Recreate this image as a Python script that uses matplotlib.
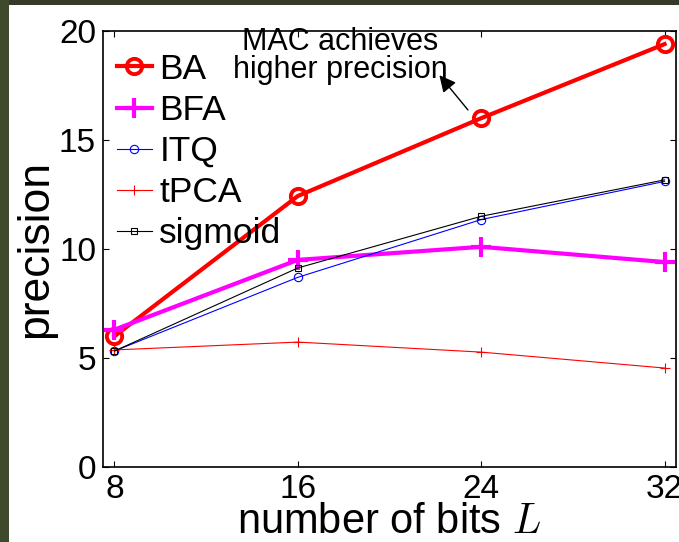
import matplotlib
matplotlib.use('Agg')
import matplotlib.pyplot as plt
from matplotlib.patches import Rectangle

plt.rcParams['font.family'] = ['Liberation Sans', 'DejaVu Sans']
plt.rcParams['mathtext.fontset'] = 'cm'

bits = [8, 16, 24, 32]
ba = [6.0, 12.43, 16.0, 19.4]
bfa = [6.3, 9.5, 10.1, 9.4]
itq = [5.32, 8.7, 11.35, 13.1]
tpca = [5.37, 5.73, 5.27, 4.54]
sigmoid = [5.32, 9.13, 11.5, 13.17]

fig = plt.figure(figsize=(6.79, 5.42), dpi=100)
fig.patch.set_facecolor('white')
# dark border strips along the top and left edge
fig.add_artist(Rectangle((0, 1 - 5 / 542), 1, 5 / 542, transform=fig.transFigure,
                         facecolor='#353a2b', edgecolor='none', zorder=-5))
fig.add_artist(Rectangle((0, 0), 9 / 679, 1, transform=fig.transFigure,
                         facecolor='#3f4a2d', edgecolor='none', zorder=-5))

ax = fig.add_axes([103 / 679, 1 - 467 / 542, (676 - 103) / 679, (467 - 31) / 542])

ax.plot(bits, ba, color='red', lw=3, marker='o', ms=11, mfc='none', mew=2.8, label='BA')
ax.plot(bits, bfa, color='magenta', lw=3, marker='+', ms=14, mew=3, label='BFA')
ax.plot(bits, itq, color='blue', lw=0.8, marker='o', ms=6, mfc='none', mew=0.8, label='ITQ')
ax.plot(bits, tpca, color='red', lw=0.8, marker='+', ms=7, mew=0.8, label='tPCA')
ax.plot(bits, sigmoid, color='black', lw=0.8, marker='s', ms=5, mfc='none', mew=0.8, label='sigmoid')

ax.set_xlim(7.5, 32.5)
ax.set_ylim(0, 20)
ax.set_xticks(bits)
ax.set_yticks([0, 5, 10, 15, 20])
ax.tick_params(direction='in', length=4, width=0.8, labelsize=24, top=True, right=True, pad=5)
for s in ax.spines.values():
    s.set_linewidth(1.2)

ax.set_xlabel('number of bits $L$', fontsize=30, labelpad=-2)
ax.set_ylabel('precision', fontsize=32, labelpad=2)

ax.legend(loc='upper left', bbox_to_anchor=(0.024, 0.95), frameon=False, fontsize=25.5,
          handlelength=1.0, handletextpad=0.2, labelspacing=0.23,
          borderaxespad=0, borderpad=0)

ax.text(17.85, 18.85, 'MAC achieves\nhigher precision', fontsize=22, ha='center', va='center',
        linespacing=0.88)
ax.annotate('', xy=(22.1, 18.07), xytext=(23.5, 16.28),
            arrowprops=dict(arrowstyle='-|>', color='black', lw=1, mutation_scale=25))

fig.savefig('out.png', dpi=100)
